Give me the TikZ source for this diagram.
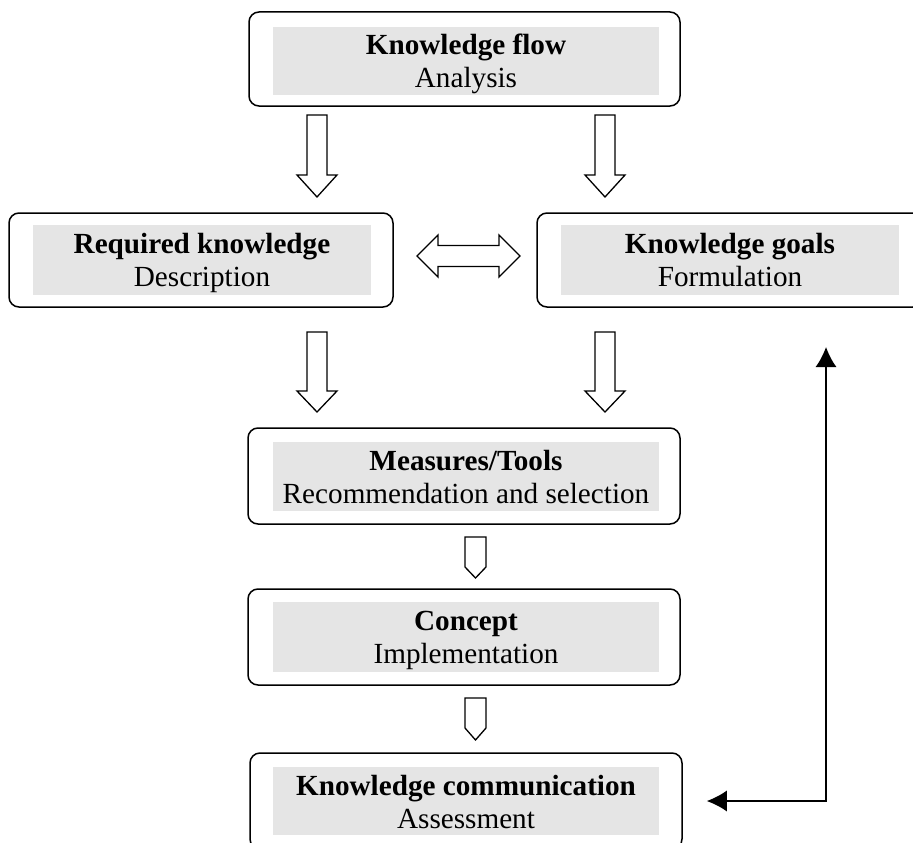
\documentclass[tikz,border=0pt]{standalone}
\usepackage{fontspec}
\setmainfont{Liberation Serif}
\usetikzlibrary{arrows.meta}
\tikzset{
  outerbox/.style={draw=black, line width=1.5pt, rounded corners=10pt, inner sep=0pt, fill=white},
  graybox/.style={fill=gray!20, inner sep=0pt},
  txtline/.style={anchor=base, inner sep=0pt, font=\fontsize{29.2}{33}\selectfont},
  blockarr/.style={draw=black, line width=1.3pt, fill=white, line join=miter},
  fbline/.style={line width=1.4pt, {Latex[length=20pt,width=21pt]}-{Latex[length=20pt,width=21pt]}},
}
\newcommand\blockdown[6]{% cx, ytop, yhead, ytip, shaft half, head half
  \draw[blockarr] ({#1-#5},#2) -- ({#1+#5},#2) -- ({#1+#5},#3) -- ({#1+#6},#3) -- (#1,#4) -- ({#1-#6},#3) -- ({#1-#5},#3) -- cycle;}
\begin{document}
\begin{tikzpicture}[x=1pt,y=-1pt]
  \useasboundingbox (0,0) rectangle (913,843);
  \clip (0,0) rectangle (913,843);
  % boxes
  \node[outerbox, minimum width=431pt, minimum height=94pt] (kf) at (464.5,59) {};
  \node[graybox, minimum width=386pt, minimum height=68pt] (kfg) at (466,61) {};
  \node[txtline] (kf1) at (466,55) {\textbf{Knowledge flow}};
  \node[txtline] (kf2) at (466,88) {Analysis};

  \node[outerbox, minimum width=384pt, minimum height=94pt] (rk) at (201,260) {};
  \node[graybox, minimum width=338pt, minimum height=70pt] (rkg) at (202,260) {};
  \node[txtline] (rk1) at (202,253) {\textbf{Required knowledge}};
  \node[txtline] (rk2) at (202,286) {Description};

  \node[outerbox, minimum width=386pt, minimum height=94pt] (kg) at (730,260) {};
  \node[graybox, minimum width=338pt, minimum height=70pt] (kgg) at (730,260) {};
  \node[txtline] (kg1) at (730,253) {\textbf{Knowledge goals}};
  \node[txtline] (kg2) at (730,286) {Formulation};

  \node[outerbox, minimum width=432pt, minimum height=96pt] (mt) at (464,476) {};
  \node[graybox, minimum width=386pt, minimum height=69pt] (mtg) at (466,476.5) {};
  \node[txtline] (mt1) at (466,470) {\textbf{Measures/Tools}};
  \node[txtline] (mt2) at (466,503) {Recommendation and selection};

  \node[outerbox, minimum width=432pt, minimum height=96pt] (co) at (464,637) {};
  \node[graybox, minimum width=386pt, minimum height=70pt] (cog) at (466,637) {};
  \node[txtline] (co1) at (466,630) {\textbf{Concept}};
  \node[txtline] (co2) at (466,663) {Implementation};

  \node[outerbox, minimum width=432pt, minimum height=96pt] (kc) at (466,801) {};
  \node[graybox, minimum width=386pt, minimum height=68pt] (kcg) at (466,801) {};
  \node[txtline] (kc1) at (466,795) {\textbf{Knowledge communication}};
  \node[txtline] (kc2) at (466,828) {Assessment};

  % block arrows
  \blockdown{317}{115}{175}{197}{10}{20}
  \blockdown{605}{115}{175}{197}{10}{20}
  \blockdown{317}{332}{391}{412}{10}{20}
  \blockdown{605}{332}{391}{412}{10}{20}
  \blockdown{475.5}{537}{567}{578}{10.5}{10.5}
  \blockdown{475.5}{698}{728}{740}{10.5}{10.5}
  \draw[blockarr] (417,256) -- (438,235) -- (438,245.5) -- (499,245.5) -- (499,235) -- (520,256) -- (499,277) -- (499,266.5) -- (438,266.5) -- (438,277) -- cycle;
  % feedback connector
  \coordinate (fbstart) at ([xshift=24pt]kc.east);
  \coordinate (fbcorner) at (826,801);
  \coordinate (fbend) at (826,347);
  \draw[fbline] (fbstart) -- (fbcorner) -- (fbend);
\end{tikzpicture}
\end{document}
